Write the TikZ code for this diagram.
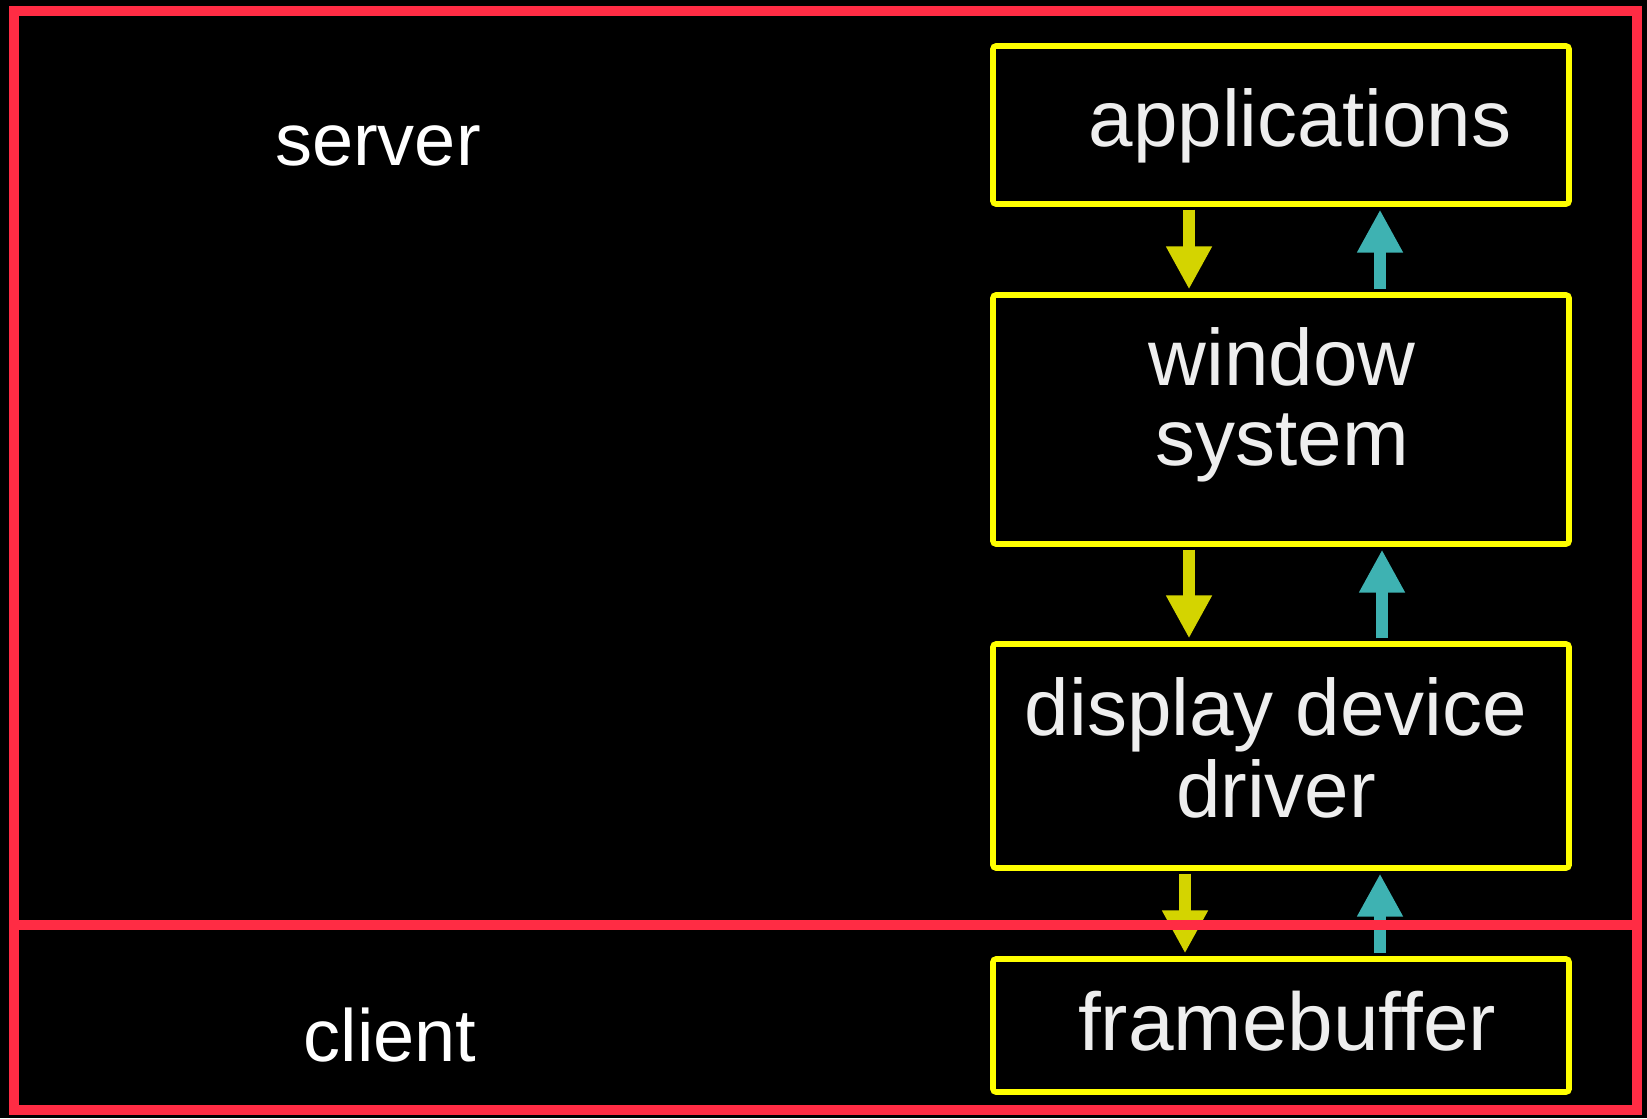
\documentclass[tikz,border=0pt]{standalone}
\usepackage{fontspec}
\setmainfont{Liberation Sans}
\usetikzlibrary{arrows.meta}
\definecolor{redline}{RGB}{255,44,68}
\definecolor{boxyellow}{RGB}{255,255,0}
\definecolor{arryellow}{RGB}{212,212,0}
\definecolor{arrcyan}{RGB}{62,178,178}
\definecolor{txtgray}{RGB}{238,238,238}
\tikzset{
  boxnode/.style={draw=boxyellow, line width=2.8pt, rounded corners=1.5pt, fill=black,
    minimum width=288pt, inner sep=0pt},
  boxtext/.style={anchor=base, inner sep=0pt, text=txtgray, font=\fontsize{40pt}{40pt}\selectfont},
  sidetext/.style={anchor=base, inner sep=0pt, text=white, font=\fontsize{37pt}{37pt}\selectfont},
  yarr/.style={draw=arryellow, line width=5.6pt, -{Triangle[width=21.5pt,length=21.5pt,fill=arryellow]}},
  carr/.style={draw=arrcyan, line width=5.6pt, -{Triangle[width=21.5pt,length=21.5pt,fill=arrcyan]}},
  redl/.style={draw=redline, line width=5.25pt}
}
\begin{document}
\begin{tikzpicture}[x=0.5pt,y=-0.5pt]
  \fill[black] (0,0) rectangle (1647,1118);
  \useasboundingbox (0,0) rectangle (1647,1118);
  % box centres
  \coordinate (capp) at (1281,125);
  \coordinate (cwin) at (1281,419.5);
  \coordinate (cdrv) at (1281,756);
  \coordinate (cfb) at (1281,1025.5);
  % arrow columns
  \coordinate (ya) at (1189,0);
  \coordinate (yb) at (1185,0);
  \coordinate (ca) at (1380,0);
  \coordinate (cb) at (1382,0);
  % boxes
  \path (capp) node[boxnode, minimum height=79pt] (app) {};
  \path (cwin) node[boxnode, minimum height=124.5pt] (win) {};
  \path (cdrv) node[boxnode, minimum height=112pt] (drv) {};
  \path (cfb) node[boxnode, minimum height=66.5pt] (fb) {};
  % arrows
  \draw[yarr] ([yshift=-1.4pt]ya |- app.south) -- ([yshift=1.4pt]ya |- win.north);
  \draw[yarr] ([yshift=-1.4pt]ya |- win.south) -- ([yshift=1.4pt]ya |- drv.north);
  \draw[yarr] ([yshift=-1.4pt]yb |- drv.south) -- ([yshift=1.4pt]yb |- fb.north);
  \draw[carr] ([yshift=1.4pt]ca |- win.north) -- ([yshift=-1.4pt]ca |- app.south);
  \draw[carr] ([yshift=1.4pt]cb |- drv.north) -- ([yshift=-1.4pt]cb |- win.south);
  \draw[carr] ([yshift=1.4pt]ca |- fb.north) -- ([yshift=-1.4pt]ca |- drv.south);
  % texts
  \node[boxtext] (tapp) at (1300,147) {applications};
  \node[boxtext] (twin1) at (1282,385) {window};
  \node[boxtext] (twin2) at (1282,465) {system};
  \node[boxtext] (tdrv1) at (1276,735) {display device};
  \node[boxtext] (tdrv2) at (1276,817) {driver};
  \node[boxtext, font=\fontsize{41pt}{41pt}\selectfont] (tfb) at (1287,1050) {framebuffer};
  \node[sidetext] (server) at (378,166) {server};
  \node[sidetext] (client) at (390,1061) {client};
  % red frame
  \draw[redl] (14,11) rectangle (1637,1110);
  \coordinate (dl) at (14,925);
  \coordinate (dr) at (1637,925);
  \draw[redl] (dl) -- (dr);
\end{tikzpicture}
\end{document}
